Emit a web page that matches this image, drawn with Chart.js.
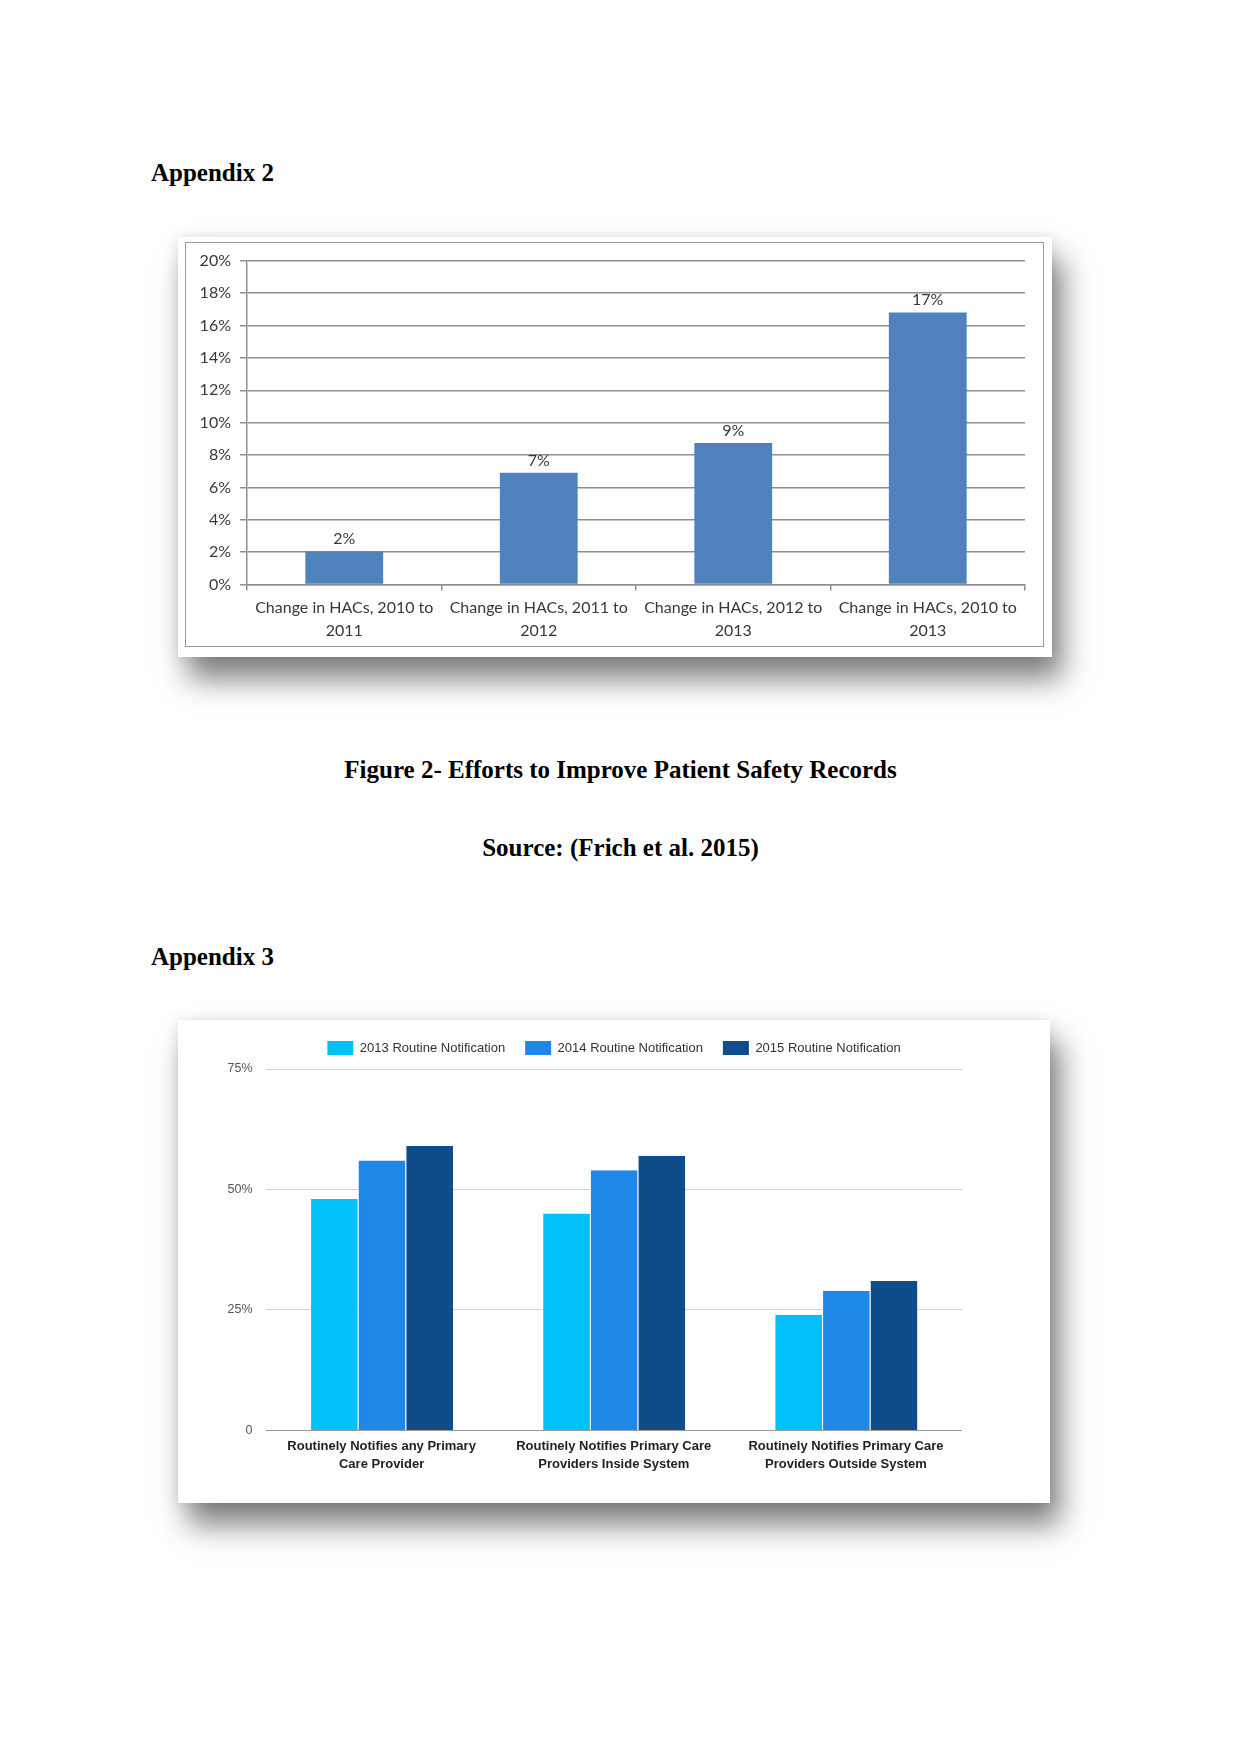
<!DOCTYPE html>
<html>
<head>
<meta charset="utf-8">
<script src="https://cdn.jsdelivr.net/npm/chart.js@4.4.1/dist/chart.umd.min.js"></script>
<style>
html,body{margin:0;padding:0;background:#fff;}
body{width:1241px;height:1754px;position:relative;overflow:hidden;font-family:"Liberation Serif","Times New Roman",serif;}
.t{position:absolute;font-weight:bold;font-size:25px;line-height:25px;color:#000;white-space:nowrap;}
.c{left:0;width:1241px;text-align:center;}
.card{position:absolute;background:#fff;box-shadow:10px 22px 28px rgba(0,0,0,0.5),0 0 14px rgba(0,0,0,0.10);}
.inner{position:absolute;border:1px solid #9a9a9a;box-sizing:border-box;}
canvas{position:absolute;}
</style>
</head>
<body>
<div class="t" style="left:151px;top:160px">Appendix 2</div>

<div class="card" style="left:178px;top:237px;width:874px;height:420px"></div>
<div class="inner" style="left:185px;top:242px;width:859px;height:405px"></div>
<canvas id="c1" width="859" height="405" style="left:185px;top:242px;width:859px;height:405px"></canvas>

<div class="t c" style="top:757px">Figure 2- Efforts to Improve Patient Safety Records</div>
<div class="t c" style="top:835px">Source: (Frich et al. 2015)</div>

<div class="t" style="left:151px;top:944px">Appendix 3</div>

<div class="card" style="left:178px;top:1020px;width:872px;height:483px"></div>
<canvas id="c2" width="872" height="483" style="left:178px;top:1020px;width:872px;height:483px"></canvas>

<script>
// ---------- Chart 1 data (Appendix 2) ----------
const hacCategories = [
  ['Change in HACs, 2010 to', '2011'],
  ['Change in HACs, 2011 to', '2012'],
  ['Change in HACs, 2012 to', '2013'],
  ['Change in HACs, 2010 to', '2013']
];
const hacValues = [2.05, 6.9, 8.75, 16.8];
const hacValueLabels = ['2%', '7%', '9%', '17%'];
const hacAxisMax = 20;
const hacAxisStep = 2;

// ---------- Chart 2 data (Appendix 3) ----------
const notifyCategories = [
  ['Routinely Notifies any Primary', 'Care Provider'],
  ['Routinely Notifies Primary Care', 'Providers Inside System'],
  ['Routinely Notifies Primary Care', 'Providers Outside System']
];
const seriesNames = ['2013 Routine Notification', '2014 Routine Notification', '2015 Routine Notification'];
const notify2013 = [48, 45, 24];
const notify2014 = [56, 54, 29];
const notify2015 = [59, 57, 31];
const notifyTicks = [0, 25, 50, 75];

const calibriLike = '"Lato", "Open Sans", sans-serif';
const arialLike = '"Liberation Sans", Arial, sans-serif';

const valueLabelPlugin = {
  id: 'valueLabels',
  afterDatasetsDraw(chart, args, opts) {
    if (!opts || !opts.labels) return;
    const meta = chart.getDatasetMeta(0);
    const ctx = chart.ctx;
    ctx.save();
    ctx.font = opts.font;
    ctx.fillStyle = opts.color;
    ctx.textAlign = 'center';
    ctx.textBaseline = 'middle';
    meta.data.forEach((bar, i) => {
      ctx.fillText(opts.labels[i], bar.x, bar.y - opts.offset);
    });
    ctx.restore();
  }
};

new Chart(document.getElementById('c1'), {
  type: 'bar',
  data: {
    labels: hacCategories,
    datasets: [{
      data: hacValues,
      backgroundColor: '#4f81bd',
      categoryPercentage: 1.0,
      barPercentage: 0.4
    }]
  },
  options: {
    responsive: false,
    animation: false,
    layout: { padding: { top: 18.7, right: 19, left: 0, bottom: 0 } },
    plugins: {
      legend: { display: false },
      tooltip: { enabled: false },
      valueLabels: { labels: hacValueLabels, font: '16px ' + calibriLike, color: '#383838', offset: 12.5 }
    },
    scales: {
      x: {
        afterFit: s => { s.height = 62.4; },
        grid: { drawOnChartArea: false, drawTicks: true, tickLength: 6, offset: true, color: '#8f8f8f', lineWidth: 1.5 },
        border: { display: true, color: '#8f8f8f', width: 1.5 },
        ticks: { padding: 6, color: '#383838', font: { family: calibriLike, size: 16, lineHeight: 1.44 }, maxRotation: 0, autoSkip: false }
      },
      y: {
        min: 0, max: hacAxisMax,
        afterFit: s => { s.width = 62; },
        grid: { color: '#8f8f8f', lineWidth: 1.5, tickLength: 7, drawTicks: true },
        border: { display: true, color: '#8f8f8f', width: 1.5 },
        ticks: { stepSize: hacAxisStep, padding: 9, color: '#383838', font: { family: calibriLike, size: 16 }, callback: v => v + '%' }
      }
    }
  },
  plugins: [valueLabelPlugin]
});

new Chart(document.getElementById('c2'), {
  type: 'bar',
  data: {
    labels: notifyCategories,
    datasets: [
      { label: seriesNames[0], data: notify2013, backgroundColor: '#02c0fa' },
      { label: seriesNames[1], data: notify2014, backgroundColor: '#1e88e8' },
      { label: seriesNames[2], data: notify2015, backgroundColor: '#0f4d8a' }
    ].map(d => Object.assign(d, {
      categoryPercentage: 0.616, barPercentage: 1.0,
      borderColor: '#ffffff', borderWidth: { left: 1, right: 0, top: 0, bottom: 0 }, borderSkipped: false
    }))
  },
  options: {
    responsive: false,
    animation: false,
    layout: { padding: { top: 1, right: 0, left: 0, bottom: 0 } },
    plugins: {
      tooltip: { enabled: false },
      legend: {
        position: 'top',
        labels: {
          boxWidth: 26, boxHeight: 14, padding: 20, color: '#333',
          font: { family: arialLike, size: 13 },
          generateLabels: chart => Chart.defaults.plugins.legend.labels.generateLabels(chart)
            .map(l => Object.assign(l, { strokeStyle: l.fillStyle, lineWidth: 0 }))
        }
      }
    },
    scales: {
      x: {
        afterFit: s => { s.height = 72.6; },
        grid: { display: false, drawTicks: false },
        border: { display: false },
        ticks: { padding: 8, color: '#222', font: { family: arialLike, size: 13, weight: 'bold', lineHeight: 1.31 }, maxRotation: 0, autoSkip: false }
      },
      xTopSpacer: {
        type: 'category',
        position: 'top',
        afterFit: s => { s.height = 4; },
        grid: { display: false, drawTicks: false },
        border: { display: false },
        ticks: { display: false }
      },
      y: {
        min: notifyTicks[0], max: notifyTicks[notifyTicks.length - 1],
        afterFit: s => { s.width = 87.5; },
        afterBuildTicks: s => { s.ticks = notifyTicks.map(v => ({ value: v })); },
        grid: { drawTicks: false, lineWidth: 1, color: c => (c.tick && c.tick.value === 0) ? '#9a9a9a' : '#d2d2d2' },
        border: { display: false },
        ticks: { padding: 13, color: '#555', font: { family: arialLike, size: 12.5 }, callback: v => v === 0 ? '0' : v + '%' }
      },
      yRight: {
        position: 'right',
        min: 0, max: 75,
        afterFit: s => { s.width = 88; },
        grid: { display: false, drawTicks: false },
        border: { display: false },
        ticks: { display: false }
      }
    }
  }
});
</script>
</body>
</html>
